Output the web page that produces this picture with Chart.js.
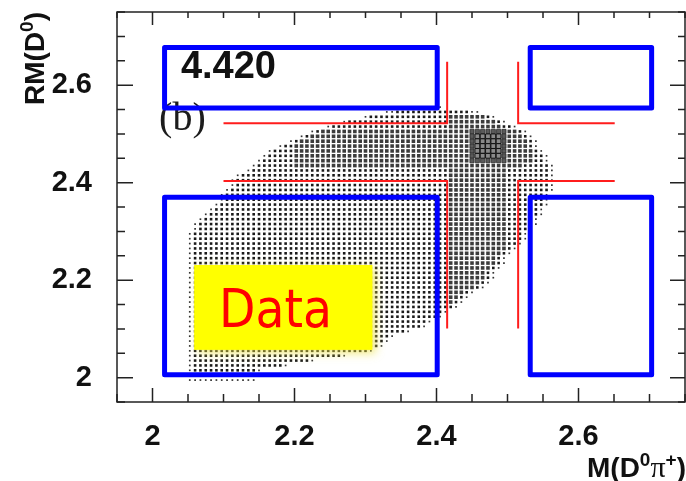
<!DOCTYPE html>
<html>
<head>
<meta charset="utf-8">
<script src="https://cdn.jsdelivr.net/npm/chart.js@4.4.1/dist/chart.umd.min.js"></script>
<style>
  html, body { margin: 0; padding: 0; background: #fff; }
  canvas { display: block; }
</style>
</head>
<body>
<canvas id="rm_chart" width="686" height="481"></canvas>
<script>
// 2D histogram (box style).
// each row: centre in RM(D0), first filled column, then (level, count) runs
const colX0 = 2.0525;
const colStep = 0.0075;
const rowY = [
  2.555, 2.545, 2.535, 2.525, 2.515, 2.505, 2.495, 2.485, 2.475, 2.465,
  2.455, 2.445, 2.435, 2.425, 2.415, 2.405, 2.395, 2.385, 2.375, 2.365,
  2.355, 2.345, 2.335, 2.325, 2.315, 2.305, 2.295, 2.285, 2.275, 2.265,
  2.255, 2.245, 2.235, 2.225, 2.215, 2.205, 2.195, 2.185, 2.175, 2.165,
  2.155, 2.145, 2.135, 2.125, 2.115, 2.105, 2.095, 2.085, 2.075, 2.065,
  2.055, 2.045, 2.035, 2.025, 2.015, 2.005, 1.995
];
const rowStart = [
  40, 37, 33, 29, 26, 23, 21, 19, 17, 15,
  14, 13, 12, 11, 9, 8, 8, 7, 6, 6,
  5, 4, 3, 2, 1, 1, 0, 0, 0, 0,
  0, 0, 0, 0, 0, 0, 0, 0, 0, 0,
  0, 0, 0, 0, 0, 0, 0, 0, 0, 0,
  0, 0, 0, 0, 0, 0, 0
];
const rowRuns = [
  [1, 8],
  [1, 2, 2, 14, 1, 2],
  [1, 1, 2, 15, 3, 7, 2, 1, 1, 1],
  [1, 1, 2, 19, 3, 9, 2, 1, 1, 1],
  [1, 1, 2, 22, 3, 10, 2, 2, 1, 1],
  [1, 1, 2, 1, 3, 28, 4, 7, 3, 2, 2, 1, 1, 1],
  [1, 1, 2, 1, 3, 30, 4, 1, 5, 5, 4, 1, 3, 3, 2, 1, 1, 1],
  [1, 1, 2, 1, 3, 32, 4, 1, 5, 5, 4, 1, 3, 4, 2, 1, 1, 1],
  [1, 1, 2, 2, 3, 33, 4, 1, 5, 5, 4, 1, 3, 4, 2, 1, 1, 1],
  [1, 1, 2, 4, 3, 33, 4, 1, 5, 5, 4, 1, 3, 5, 2, 1, 1, 1],
  [1, 1, 2, 5, 3, 33, 4, 1, 5, 5, 4, 1, 3, 5, 2, 2, 1, 1],
  [1, 1, 2, 6, 3, 33, 4, 7, 3, 5, 2, 2, 1, 1],
  [1, 1, 2, 7, 3, 43, 2, 5, 1, 1],
  [1, 1, 2, 37, 3, 11, 2, 8, 1, 1],
  [1, 1, 2, 39, 3, 11, 2, 8, 1, 1],
  [1, 1, 2, 40, 3, 11, 2, 8, 1, 1],
  [1, 1, 2, 40, 3, 11, 2, 8, 1, 1],
  [1, 1, 2, 41, 3, 11, 2, 8, 1, 1],
  [1, 1, 2, 42, 3, 11, 2, 7, 1, 1],
  [1, 1, 2, 42, 3, 11, 2, 7, 1, 1],
  [1, 1, 2, 43, 3, 11, 2, 7, 1, 1],
  [1, 1, 2, 44, 3, 11, 2, 6, 1, 1],
  [1, 1, 2, 45, 3, 11, 2, 6, 1, 1],
  [1, 1, 2, 46, 3, 11, 2, 5, 1, 1],
  [1, 1, 2, 47, 3, 11, 2, 5, 1, 1],
  [1, 1, 2, 47, 3, 11, 2, 4, 1, 1],
  [1, 1, 2, 48, 3, 11, 2, 3, 1, 1],
  [1, 1, 2, 48, 3, 11, 2, 3, 1, 1],
  [1, 1, 2, 48, 3, 11, 2, 2, 1, 1],
  [1, 1, 2, 48, 3, 11, 2, 1, 1, 1],
  [1, 1, 2, 48, 3, 10, 2, 1, 1, 1],
  [1, 1, 2, 48, 3, 9, 2, 1, 1, 1],
  [1, 1, 2, 48, 3, 9, 2, 1, 1, 1],
  [1, 1, 2, 48, 3, 8, 2, 1, 1, 1],
  [1, 1, 2, 48, 3, 7, 2, 1, 1, 1],
  [1, 1, 2, 48, 3, 7, 2, 1, 1, 1],
  [1, 1, 2, 48, 3, 6, 2, 1, 1, 1],
  [1, 1, 2, 48, 3, 5, 2, 1, 1, 1],
  [1, 1, 2, 48, 3, 3, 2, 1, 1, 1],
  [1, 1, 2, 48, 3, 2, 2, 1, 1, 1],
  [1, 1, 2, 48, 3, 1, 2, 1, 1, 1],
  [1, 1, 2, 49, 1, 1],
  [1, 1, 2, 47, 1, 1],
  [1, 1, 2, 46, 1, 1],
  [1, 1, 2, 44, 1, 1],
  [1, 1, 2, 43, 1, 1],
  [1, 1, 2, 40, 1, 1],
  [1, 1, 2, 37, 1, 1],
  [1, 1, 2, 36, 1, 1],
  [1, 1, 2, 35, 1, 1],
  [1, 1, 2, 33, 1, 1],
  [1, 1, 2, 28, 1, 1],
  [1, 1, 2, 22, 1, 1],
  [1, 1, 2, 17, 1, 1],
  [1, 1, 2, 12, 1, 1],
  [1, 1, 2, 12, 1, 1],
  [1, 13]
];

// signal boxes (blue) and cut lines (red), in axis units
const boxX = [[2.017, 2.401], [2.532, 2.703]];
const boxY = [[2.553, 2.677], [2.006, 2.370]];
const cutLines = [
  [[2.10, 2.522], [2.415, 2.522], [2.415, 2.648]],
  [[2.515, 2.648], [2.515, 2.522], [2.651, 2.522]],
  [[2.10, 2.4035], [2.415, 2.4035], [2.415, 2.101]],
  [[2.651, 2.4035], [2.515, 2.4035], [2.515, 2.101]]
];

const energyLabel = '4.420';
const panelLabel = '(b)';
const dataLabel = 'Data';

// box look per level
const boxSide = [0, 1.7, 2.6, 3.6, 4.2, 4.8];
const boxFill = ['#000', '#333', '#1a1a1a', '#3c3c3c', '#5a5a5a', '#8a8a8a'];
const boxEdge = ['#000', '#333', '#1a1a1a', '#3c3c3c', '#1a1a1a', '#111'];
const boxEdgeW = [0, 0, 0, 0, 0.7, 1];

const histPoints = [];
rowY.forEach((y, r) => {
    let c = rowStart[r];
    const runs = rowRuns[r];
    for (let i = 0; i < runs.length; i += 2) {
        for (let k = 0; k < runs[i + 1]; k++) {
            histPoints.push({ x: colX0 + c * colStep, y: y, level: runs[i] });
            c++;
        }
    }
});

const gap = { x: null, y: null };
const bluePoints = [];
boxX.forEach(bx => {
    boxY.forEach(by => {
        bluePoints.push(
            { x: bx[0], y: by[0] }, { x: bx[1], y: by[0] },
            { x: bx[1], y: by[1] }, { x: bx[0], y: by[1] },
            { x: bx[0], y: by[0] }, gap
        );
    });
});
const redPoints = [];
cutLines.forEach(line => {
    line.forEach(p => redPoints.push({ x: p[0], y: p[1] }));
    redPoints.push(gap);
});

const levelOf = ctx => (ctx.raw && ctx.raw.level) || 1;
const isMajor = v => Math.abs(v / 0.2 - Math.round(v / 0.2)) < 1e-6;
const tickText = v => isMajor(v) ? String(parseFloat(v.toFixed(2))) : '';

const tickFont = { family: 'Liberation Sans', weight: 'bold', size: 29 };

// no label overhang padding, the frame must sit at fixed pixels
const fixScale = size => s => {
    if (s.isHorizontal()) s.height = size; else s.width = size;
    s.paddingTop = 0;
    s.paddingBottom = 0;
    s.paddingLeft = 0;
    s.paddingRight = 0;
};

// inward ticks on all four sides, frame, axis titles
const rootFrame = {
    id: 'rootFrame',
    afterDraw(chart) {
        const { ctx, chartArea: a, scales: { x, y } } = chart;
        ctx.save();
        ctx.strokeStyle = '#222';
        ctx.lineWidth = 1.5;
        ctx.strokeRect(a.left, a.top, a.right - a.left, a.bottom - a.top);
        ctx.beginPath();
        x.ticks.forEach(t => {
            const px = x.getPixelForValue(t.value);
            const big = isMajor(t.value);
            ctx.moveTo(px, a.bottom);
            ctx.lineTo(px, a.bottom - (big ? 14 : 8));
            ctx.moveTo(px, a.top);
            ctx.lineTo(px, a.top + (big ? 13 : 6));
        });
        y.ticks.forEach(t => {
            const py = y.getPixelForValue(t.value);
            const big = isMajor(t.value);
            ctx.moveTo(a.left, py);
            ctx.lineTo(a.left + (big ? 16 : 8), py);
            ctx.moveTo(a.right, py);
            ctx.lineTo(a.right - (big ? 15 : 7), py);
        });
        ctx.stroke();

        ctx.fillStyle = '#111';
        const big = 'bold 28px "Liberation Sans"';
        const sup = 'bold 19px "Liberation Sans"';
        const pieces = (list) => list.reduce((w, p) => { ctx.font = p[1]; return w + ctx.measureText(p[0]).width; }, 0);
        const drawPieces = (list, x0, base) => {
            let cx = x0;
            list.forEach(p => {
                ctx.font = p[1];
                ctx.fillText(p[0], cx, base - p[2]);
                cx += ctx.measureText(p[0]).width;
            });
        };
        ctx.textAlign = 'left';
        ctx.textBaseline = 'alphabetic';

        // y title, rotated, ending at the top of the frame
        const yTitle = [['RM(D', big, 0], ['0', sup, 11], [')', big, 0]];
        ctx.save();
        ctx.translate(44, a.top);
        ctx.rotate(-Math.PI / 2);
        drawPieces(yTitle, -pieces(yTitle), 0);
        ctx.restore();

        // x title, bottom right
        const xTitle = [['M(D', big, 0], ['0', sup, 11], ['\u03c0', '30px "Liberation Serif"', 0], ['+', sup, 11], [')', big, 0]];
        drawPieces(xTitle, 686 - pieces(xTitle), 477);
        ctx.restore();
    }
};

// yellow "Data" tag and panel labels, under the blue boxes
const overlay = {
    id: 'overlay',
    beforeDatasetDraw(chart, args) {
        if (args.index !== 2) return;
        const { ctx, scales: { x, y } } = chart;
        ctx.save();
        const x0 = x.getPixelForValue(2.0586), x1 = x.getPixelForValue(2.3097);
        const y0 = y.getPixelForValue(2.231), y1 = y.getPixelForValue(2.057);
        ctx.shadowColor = 'rgba(235, 225, 60, 0.7)';
        ctx.shadowBlur = 9;
        ctx.shadowOffsetX = 4;
        ctx.shadowOffsetY = 3;
        ctx.fillStyle = '#ffff00';
        ctx.fillRect(x0, y0, x1 - x0, y1 - y0);
        ctx.shadowColor = 'transparent';

        ctx.fillStyle = '#ff0000';
        ctx.font = '54px "DejaVu Sans"';
        ctx.textBaseline = 'alphabetic';
        const w = ctx.measureText(dataLabel).width;
        ctx.translate(x.getPixelForValue(2.0938), y.getPixelForValue(2.104));
        ctx.scale(113 / w, 1);
        ctx.fillText(dataLabel, 0, 0);
        ctx.restore();

        ctx.save();
        ctx.fillStyle = '#1c1c1c';
        ctx.font = '40px "Liberation Serif"';
        ctx.fillText(panelLabel, x.getPixelForValue(2.0093), y.getPixelForValue(2.508));
        ctx.restore();
    },
    afterDatasetsDraw(chart) {
        const { ctx, scales: { x, y } } = chart;
        ctx.save();
        ctx.fillStyle = '#111';
        ctx.font = 'bold 38px "Liberation Sans"';
        ctx.fillText(energyLabel, x.getPixelForValue(2.040), y.getPixelForValue(2.615));
        ctx.restore();
    }
};

new Chart(document.getElementById('rm_chart'), {
    type: 'scatter',
    data: {
        datasets: [
            {
                label: 'data',
                data: histPoints,
                order: 3,
                pointStyle: 'rect',
                pointRadius: ctx => boxSide[levelOf(ctx)] / Math.SQRT2,
                backgroundColor: ctx => boxFill[levelOf(ctx)],
                borderColor: ctx => boxEdge[levelOf(ctx)],
                borderWidth: ctx => boxEdgeW[levelOf(ctx)]
            },
            {
                label: 'cuts',
                data: redPoints,
                order: 2,
                showLine: true,
                pointRadius: 0,
                borderColor: '#ff1c1c',
                borderWidth: 2
            },
            {
                label: 'boxes',
                data: bluePoints,
                order: 1,
                showLine: true,
                pointRadius: 0,
                borderColor: '#0000ff',
                borderWidth: 5,
                borderJoinStyle: 'round'
            }
        ]
    },
    options: {
        responsive: false,
        animation: false,
        events: [],
        layout: { autoPadding: false, padding: { top: 12, right: 1, left: 0, bottom: 0 } },
        plugins: {
            legend: { display: false },
            tooltip: { enabled: false }
        },
        scales: {
            x: {
                type: 'linear',
                min: 1.95,
                max: 2.75,
                afterFit: fixScale(79),
                grid: { display: false, drawTicks: false },
                border: { display: false },
                ticks: {
                    stepSize: 0.05,
                    autoSkip: false,
                    maxRotation: 0,
                    padding: 18,
                    color: '#111',
                    font: tickFont,
                    callback: tickText
                }
            },
            y: {
                type: 'linear',
                min: 1.95,
                max: 2.75,
                afterFit: fixScale(117),
                grid: { display: false, drawTicks: false },
                border: { display: false },
                ticks: {
                    stepSize: 0.05,
                    autoSkip: false,
                    padding: 25,
                    color: '#111',
                    font: tickFont,
                    callback: tickText
                }
            }
        }
    },
    plugins: [overlay, rootFrame]
});
</script>
</body>
</html>
